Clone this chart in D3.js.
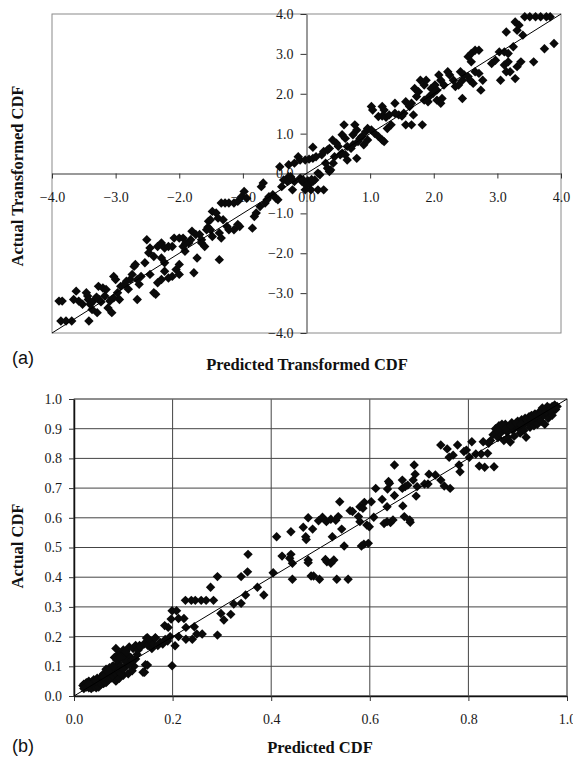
<!DOCTYPE html>
<html>
<head>
<meta charset="utf-8">
<script src="https://cdn.jsdelivr.net/npm/d3@7"></script>
<style>
  body { margin: 0; background: #fff; }
  .tick text { font-family: "Liberation Serif", "Times New Roman", serif; font-size: 14px; fill: #1a1a1a; }
  .title { font-family: "Liberation Serif", "Times New Roman", serif; font-size: 16.5px; font-weight: bold; fill: #111; }
  .panel { font-family: "Liberation Sans", Arial, sans-serif; font-size: 18px; fill: #111; }
</style>
</head>
<body>
<svg id="chart" width="573" height="761"></svg>
<script>
// tick values
const transformedTicks = [-4, -3, -2, -1, 0, 1, 2, 3, 4];
const cdfXTicks = [0, 0.2, 0.4, 0.6, 0.8, 1.0];
const cdfYTicks = [0, 0.1, 0.2, 0.3, 0.4, 0.5, 0.6, 0.7, 0.8, 0.9, 1.0];

// (a) predicted vs actual transformed CDF, [predicted, actual]
const transformedPairs = [
  [-3.89,-3.2],[-3.84,-3.2],[-3.86,-3.7],[-3.78,-3.7],[-3.69,-3.7],[-3.62,-2.95],[-3.66,-3.16],[-3.58,-3.2],
  [-3.52,-3.28],[-3.46,-2.99],[-3.44,-3.07],[-3.43,-3.16],[-3.4,-3.28],[-3.42,-3.7],[-3.37,-3.41],[-3.29,-3.49],
  [-3.35,-3.2],[-3.26,-3.16],[-3.23,-3.22],[-3.27,-2.83],[-3.2,-2.87],[-3.15,-2.91],[-3.17,-3.07],[-3.09,-3.2],
  [-3.12,-3.37],[-3.06,-3.49],[-3.03,-3.12],[-2.97,-2.99],[-2.94,-3.16],[-3.03,-2.58],[-3.0,-2.66],[-2.92,-2.83],
  [-2.86,-2.78],[-2.83,-2.7],[-2.77,-2.66],[-2.74,-2.53],[-2.71,-2.33],[-2.69,-2.28],[-2.66,-2.66],[-2.63,-2.78],
  [-2.66,-3.16],[-2.6,-2.58],[-2.54,-2.24],[-2.51,-1.66],[-2.48,-1.99],[-2.46,-1.87],[-2.4,-2.08],[-2.46,-2.53],
  [-2.4,-2.99],[-2.37,-3.03],[-2.34,-2.74],[-2.28,-2.66],[-2.34,-1.83],[-2.28,-1.74],[-2.23,-1.87],[-2.28,-2.12],
  [-2.23,-2.24],[-2.23,-2.45],[-2.17,-2.62],[-2.11,-2.58],[-2.17,-1.83],[-2.11,-1.83],[-2.08,-1.62],[-2.0,-1.62],
  [-1.94,-1.62],[-2.05,-2.41],[-2.0,-2.28],[-2.0,-2.53],[-1.94,-1.83],[-1.91,-1.95],[-1.85,-1.74],[-1.82,-1.66],
  [-1.8,-1.45],[-1.77,-2.49],[-1.72,-2.12],[-1.74,-1.53],[-1.68,-1.53],[-1.65,-1.66],[-1.65,-1.74],[-1.6,-1.83],
  [-1.57,-1.41],[-1.51,-1.41],[-1.48,-1.58],[-1.48,-0.95],[-1.42,-0.99],[-1.39,-1.12],[-1.54,-1.2],[-1.51,-1.16],
  [-1.37,-1.49],[-1.34,-1.62],[-1.37,-2.16],[-1.34,-0.74],[-1.28,-0.74],[-1.22,-0.74],[-1.14,-0.74],[-1.08,-0.7],
  [-1.31,-1.16],[-1.25,-1.33],[-1.22,-1.41],[-1.14,-1.41],[-1.08,-1.28],[-1.05,-1.33],[-1.02,-0.58],[-0.98,-0.45],
  [-0.94,-0.62],[-0.85,-1.37],[-0.82,-1.08],[-0.79,-0.99],[-0.73,-0.83],[-0.71,-0.33],[-0.68,-0.24],[-0.65,-0.74],
  [-0.62,-0.66],[-0.59,-0.58],[-0.53,-0.53],[-0.48,-0.62],[-0.45,-0.66],[-0.42,0.17],[-0.39,-0.33],[-0.36,-0.16],
  [-0.3,-0.2],[-0.28,-0.08],[-0.25,-0.08],[-0.22,-0.41],[-0.19,-0.2],[-0.28,0.22],[-0.19,0.26],[-0.13,0.42],
  [-0.1,0.34],[-0.1,-0.12],[-0.07,-0.2],[-0.05,-0.16],[-0.02,-0.41],[0.07,-0.41],[0.1,-0.2],[0.13,-0.16],
  [0.02,-0.18],[0.05,-0.25],[0.08,-0.15],[0.0,-0.3],[-3.3,-3.1],[-2.8,-2.9],[-1.9,-1.75],[-1.55,-1.35],
  [0.1,0.66],[-0.02,0.34],[0.04,0.36],[0.1,0.38],[0.15,0.42],[0.18,0.01],[0.21,-0.03],[0.18,-0.41],
  [0.27,-0.41],[0.24,0.47],[0.27,0.55],[0.33,0.59],[0.36,0.63],[0.3,0.26],[0.33,0.13],[0.36,0.05],
  [0.38,0.09],[0.42,0.26],[0.41,0.84],[0.47,0.76],[0.5,0.68],[0.44,0.42],[0.53,0.47],[0.56,0.51],
  [0.59,1.22],[0.56,0.97],[0.61,0.88],[0.64,0.68],[0.7,0.63],[0.73,0.72],[0.61,0.47],[0.64,0.34],
  [0.73,0.97],[0.76,1.22],[0.79,1.09],[0.81,0.8],[0.84,0.88],[0.87,0.93],[0.79,0.38],[0.93,1.05],
  [0.96,1.13],[0.9,0.72],[0.96,0.84],[1.02,1.09],[1.07,1.01],[1.13,0.93],[1.19,0.84],[1.22,0.8],
  [1.02,1.68],[1.04,1.59],[1.19,1.68],[1.22,1.59],[1.13,1.43],[1.19,1.44],[1.25,1.41],[1.3,1.47],
  [1.27,1.13],[1.33,1.22],[1.39,1.76],[1.39,1.51],[1.45,1.47],[1.5,1.44],[1.53,1.51],[1.56,1.22],
  [1.65,1.22],[1.68,1.47],[1.56,1.8],[1.62,1.68],[1.65,1.76],[1.7,2.13],[1.73,1.93],[1.76,2.05],
  [1.82,1.22],[1.79,2.34],[1.85,2.22],[1.88,2.34],[1.85,1.84],[1.91,1.8],[1.93,1.93],[1.96,2.13],
  [1.99,2.01],[2.02,2.22],[2.05,2.09],[2.05,1.84],[2.11,1.76],[2.13,1.88],[2.08,2.47],[2.11,2.34],
  [2.16,2.22],[2.22,2.55],[2.25,2.47],[2.31,2.34],[2.34,2.18],[2.39,2.22],[2.45,2.34],[2.45,1.88],
  [2.42,2.55],[2.48,2.47],[2.54,2.43],[2.54,2.93],[2.59,3.01],[2.57,2.34],[2.62,2.26],[2.65,3.09],
  [2.71,3.09],[2.59,2.8],[2.65,2.55],[2.71,2.51],[2.77,2.34],[2.74,2.09],[2.91,2.76],[2.97,2.84],
  [3.03,3.05],[3.05,2.34],[3.11,2.72],[3.17,2.8],[3.2,2.55],[3.14,2.55],[3.14,3.55],[3.11,3.05],
  [3.17,3.01],[3.25,3.18],[3.28,2.38],[3.31,2.68],[3.28,3.8],[3.31,3.59],[3.34,3.72],[3.4,3.47],
  [3.37,2.8],[3.43,3.93],[3.51,3.93],[3.6,3.93],[3.68,3.93],[3.77,3.93],[3.83,3.93],[3.57,2.8],
  [3.74,3.13],[3.89,3.26]
];

// (b) predicted vs actual CDF, [predicted, actual]
const cdfPairs = [
  [0.018,0.035],[0.02,0.04],[0.022,0.03],[0.025,0.045],[0.027,0.035],[0.03,0.028],[0.03,0.05],[0.033,0.04],
  [0.035,0.032],[0.037,0.048],[0.04,0.03],[0.04,0.055],[0.043,0.042],[0.045,0.035],[0.047,0.06],[0.05,0.045],
  [0.052,0.038],[0.055,0.065],[0.057,0.05],[0.06,0.042],[0.06,0.075],[0.063,0.06],[0.065,0.09],[0.067,0.05],
  [0.07,0.07],[0.072,0.095],[0.075,0.06],[0.075,0.085],[0.078,0.1],[0.08,0.065],[0.082,0.13],[0.085,0.16],
  [0.085,0.05],[0.088,0.08],[0.09,0.11],[0.09,0.14],[0.092,0.06],[0.095,0.145],[0.097,0.09],[0.1,0.155],
  [0.1,0.07],[0.102,0.12],[0.105,0.1],[0.108,0.14],[0.11,0.075],[0.112,0.165],[0.115,0.13],[0.118,0.085],
  [0.12,0.16],[0.122,0.1],[0.125,0.17],[0.128,0.14],[0.13,0.155],[0.133,0.17],[0.135,0.165],[0.14,0.08],
  [0.142,0.175],[0.145,0.105],[0.147,0.195],[0.15,0.17],[0.155,0.185],[0.158,0.16],[0.16,0.175],[0.165,0.195],
  [0.17,0.17],[0.175,0.18],[0.18,0.175],[0.185,0.19],[0.19,0.185],[0.195,0.2],
  [0.025,0.03],[0.028,0.042],[0.032,0.036],[0.038,0.038],[0.042,0.05],[0.048,0.04],[0.053,0.055],[0.058,0.048],
  [0.062,0.055],[0.068,0.065],[0.073,0.078],[0.08,0.09],[0.086,0.095],[0.094,0.1],[0.098,0.13],
  [0.02,0.025],[0.035,0.025],[0.045,0.028],[0.05,0.03],[0.055,0.04],[0.065,0.045],[0.07,0.055],[0.078,0.07],
  [0.083,0.078],[0.09,0.085],[0.095,0.075],[0.1,0.09],[0.107,0.115],[0.112,0.105],[0.118,0.12],[0.125,0.125],
  [0.03,0.04],[0.045,0.05],[0.06,0.065],[0.07,0.08],[0.08,0.1],[0.087,0.12],[0.093,0.13],[0.105,0.15],
  [0.143,0.08],[0.149,0.104],[0.149,0.196],[0.165,0.196],[0.199,0.102],[0.184,0.237],[0.191,0.231],[0.197,0.259],
  [0.199,0.287],[0.208,0.287],[0.212,0.261],[0.223,0.261],[0.227,0.231],[0.205,0.169],[0.212,0.2],[0.227,0.191],
  [0.24,0.191],[0.244,0.233],[0.249,0.209],[0.26,0.209],[0.226,0.322],[0.238,0.322],[0.246,0.322],[0.258,0.322],
  [0.268,0.322],[0.283,0.322],[0.277,0.366],[0.291,0.402],[0.291,0.205],[0.298,0.278],[0.304,0.256],[0.318,0.275],
  [0.324,0.31],[0.339,0.312],[0.339,0.402],[0.352,0.418],[0.353,0.477],[0.348,0.34],[0.372,0.366],[0.385,0.34],
  [0.404,0.415],[0.411,0.536],[0.422,0.471],[0.44,0.553],[0.4375,0.464],[0.44,0.477],[0.443,0.447],[0.443,0.393],
  [0.475,0.6],[0.465,0.568],[0.47,0.536],[0.471,0.527],[0.475,0.458],[0.475,0.449],[0.484,0.562],[0.481,0.404],
  [0.486,0.404],[0.498,0.393],[0.496,0.59],[0.504,0.602],[0.512,0.587],[0.521,0.595],[0.531,0.592],[0.513,0.452],
  [0.521,0.447],[0.527,0.458],[0.51,0.46],[0.524,0.536],[0.533,0.393],[0.539,0.654],[0.536,0.604],[0.543,0.562],
  [0.548,0.505],[0.556,0.393],[0.56,0.624],[0.565,0.621],[0.577,0.604],[0.58,0.587],[0.58,0.637],[0.586,0.632],
  [0.589,0.652],[0.583,0.505],[0.588,0.511],[0.597,0.514],[0.594,0.576],[0.599,0.57],[0.603,0.654],[0.608,0.602],
  [0.612,0.699],[0.625,0.662],[0.629,0.581],[0.635,0.587],[0.642,0.584],[0.647,0.593],[0.638,0.722],[0.64,0.716],
  [0.636,0.697],[0.635,0.637],[0.65,0.778],[0.65,0.675],[0.666,0.727],[0.666,0.699],[0.672,0.705],[0.677,0.71],
  [0.667,0.64],[0.67,0.604],[0.681,0.593],[0.682,0.585],[0.69,0.778],[0.692,0.747],[0.688,0.727],[0.696,0.705],
  [0.694,0.673],[0.711,0.714],[0.718,0.714],[0.72,0.747],[0.733,0.744],[0.744,0.727],[0.751,0.707],[0.763,0.699],
  [0.744,0.845],[0.757,0.832],[0.761,0.804],[0.769,0.811],[0.778,0.845],[0.781,0.778],[0.783,0.755],[0.791,0.823],
  [0.796,0.828],[0.807,0.856],[0.802,0.804],[0.815,0.815],[0.826,0.815],[0.822,0.774],[0.833,0.77],[0.852,0.772],
  [0.83,0.856],[0.841,0.851],[0.839,0.817],
  [0.845,0.86],[0.85,0.88],[0.855,0.9],[0.86,0.87],[0.862,0.91],[0.865,0.885],[0.87,0.9],[0.872,0.86],
  [0.875,0.915],[0.878,0.89],[0.88,0.87],[0.883,0.905],[0.885,0.855],[0.888,0.92],[0.89,0.895],[0.893,0.875],
  [0.895,0.91],[0.9,0.925],[0.903,0.9],[0.905,0.885],[0.908,0.93],[0.91,0.91],[0.913,0.895],[0.915,0.935],
  [0.917,0.871],[0.92,0.92],[0.923,0.94],[0.925,0.905],[0.928,0.945],[0.93,0.925],[0.933,0.91],[0.935,0.95],
  [0.938,0.935],[0.94,0.915],[0.943,0.955],[0.945,0.94],[0.948,0.925],[0.95,0.96],[0.952,0.945],[0.955,0.915],
  [0.957,0.965],[0.96,0.95],[0.962,0.935],[0.965,0.97],[0.967,0.955],[0.97,0.975],[0.972,0.96],[0.975,0.98],
  [0.977,0.965],[0.97,0.945],[0.96,0.975],[0.95,0.97],
  [0.858,0.895],[0.868,0.915],[0.876,0.9],[0.886,0.91],[0.897,0.92],[0.906,0.915],[0.918,0.93],[0.927,0.93],
  [0.937,0.945],[0.946,0.95],[0.958,0.958],[0.966,0.962],[0.974,0.972],[0.98,0.975]
];

const svg = d3.select('#chart');
const fmt = d3.format('.1f');

function diamond(r) {
  return 'M0,' + (-r) + 'L' + r + ',0L0,' + r + 'L' + (-r) + ',0Z';
}

function styleAxis(g, color) {
  g.select('.domain').attr('stroke', color).attr('stroke-width', 1.5);
  g.selectAll('.tick line').attr('stroke', '#333');
}

// ---------- (a) ----------
const xa = d3.scaleLinear().domain([-4, 4]).range([52, 561]);
const ya = d3.scaleLinear().domain([-4, 4]).range([333, 14]);
const ga = svg.append('g');

ga.append('rect')
  .attr('x', xa(-4)).attr('y', ya(4))
  .attr('width', xa(4) - xa(-4)).attr('height', ya(-4) - ya(4))
  .attr('fill', 'none').attr('stroke', '#8a8a8a');

ga.append('g')
  .attr('transform', 'translate(0,' + ya(0) + ')')
  .call(d3.axisBottom(xa).tickValues(transformedTicks).tickFormat(fmt).tickSizeInner(5).tickSizeOuter(0).tickPadding(14))
  .call(g => styleAxis(g, '#777'));

ga.append('g')
  .attr('transform', 'translate(' + xa(0) + ',0)')
  .call(d3.axisLeft(ya).tickValues(transformedTicks).tickFormat(fmt).tickSizeInner(6).tickSizeOuter(0).tickPadding(7))
  .call(g => styleAxis(g, '#777'));

ga.append('g').selectAll('path')
  .data(transformedPairs)
  .join('path')
  .attr('d', diamond(4.7))
  .attr('transform', d => 'translate(' + xa(d[0]) + ',' + ya(d[1]) + ')')
  .attr('fill', '#0a0a0a');

ga.append('line')
  .attr('x1', xa(-4)).attr('y1', ya(-4)).attr('x2', xa(4)).attr('y2', ya(4))
  .attr('stroke', '#000').attr('stroke-width', 1);

ga.append('text').attr('class', 'title')
  .attr('transform', 'translate(23,176) rotate(-90)')
  .attr('text-anchor', 'middle')
  .text('Actual Transformed CDF');

ga.append('text').attr('class', 'title')
  .attr('x', 307).attr('y', 370).attr('text-anchor', 'middle')
  .text('Predicted Transformed CDF');

ga.append('text').attr('class', 'panel')
  .attr('x', 12).attr('y', 364).text('(a)');

// ---------- (b) ----------
const xb = d3.scaleLinear().domain([0, 1]).range([74, 567]);
const yb = d3.scaleLinear().domain([0, 1]).range([696, 399]);
const gb = svg.append('g');

gb.append('g').selectAll('line')
  .data(cdfYTicks)
  .join('line')
  .attr('x1', xb(0)).attr('x2', xb(1))
  .attr('y1', d => yb(d)).attr('y2', d => yb(d))
  .attr('stroke', '#444');

gb.append('g').selectAll('line')
  .data(cdfXTicks)
  .join('line')
  .attr('y1', yb(0)).attr('y2', yb(1))
  .attr('x1', d => xb(d)).attr('x2', d => xb(d))
  .attr('stroke', '#444');

gb.append('rect')
  .attr('x', xb(0)).attr('y', yb(1))
  .attr('width', xb(1) - xb(0)).attr('height', yb(0) - yb(1))
  .attr('fill', 'none').attr('stroke', '#7a7a7a');

gb.append('g')
  .attr('transform', 'translate(0,' + yb(0) + ')')
  .call(d3.axisBottom(xb).tickValues(cdfXTicks).tickFormat(fmt).tickSizeInner(5).tickSizeOuter(0).tickPadding(13))
  .call(g => styleAxis(g, '#111'));

gb.append('g')
  .attr('transform', 'translate(' + xb(0) + ',0)')
  .call(d3.axisLeft(yb).tickValues(cdfYTicks).tickFormat(fmt).tickSizeInner(5).tickSizeOuter(0).tickPadding(7))
  .call(g => styleAxis(g, '#111'));

gb.append('g').selectAll('path')
  .data(cdfPairs)
  .join('path')
  .attr('d', diamond(4.7))
  .attr('transform', d => 'translate(' + xb(d[0]) + ',' + yb(d[1]) + ')')
  .attr('fill', '#0a0a0a');

gb.append('line')
  .attr('x1', xb(0)).attr('y1', yb(0)).attr('x2', xb(1)).attr('y2', yb(1))
  .attr('stroke', '#000').attr('stroke-width', 1);

gb.append('text').attr('class', 'title')
  .attr('transform', 'translate(23,546) rotate(-90)')
  .attr('text-anchor', 'middle')
  .text('Actual CDF');

gb.append('text').attr('class', 'title')
  .attr('x', 320).attr('y', 753).attr('text-anchor', 'middle')
  .text('Predicted CDF');

gb.append('text').attr('class', 'panel')
  .attr('x', 12).attr('y', 752).text('(b)');
</script>
</body>
</html>
